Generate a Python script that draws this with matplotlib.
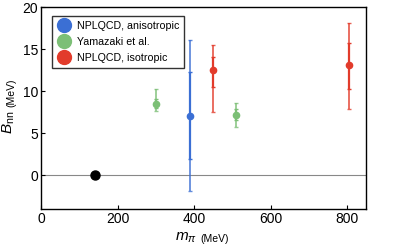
import matplotlib.pyplot as plt

plt.rcParams['font.family'] = ['Liberation Sans', 'DejaVu Sans']
plt.rcParams['mathtext.fontset'] = 'custom'
plt.rcParams['mathtext.it'] = 'Liberation Sans:italic'
plt.rcParams['mathtext.rm'] = 'Liberation Sans'

# physical point
phys_x = [140]
phys_y = [0]

# NPLQCD anisotropic
aniso_x = [390]
aniso_y = [7.1]
aniso_in = [(1.9, 12.3)]
aniso_out = [(-1.9, 16.1)]

# Yamazaki et al.
yam_x = [300, 510]
yam_y = [8.5, 7.15]
yam_in = [(8.0, 9.15), (6.6, 7.9)]
yam_out = [(7.65, 10.25), (5.75, 8.6)]

# NPLQCD isotropic
iso_x = [450, 806]
iso_y = [12.5, 13.1]
iso_in = [(10.55, 14.1), (10.3, 15.8)]
iso_out = [(7.55, 15.5), (7.9, 18.2)]

blue = '#3b6fd4'
green = '#7cbf76'
red = '#e23b2b'

fig, ax = plt.subplots(figsize=(3.99, 2.48), dpi=100)
fig.subplots_adjust(left=0.103, right=0.918, top=0.97, bottom=0.157)

ax.axhline(0, color='#888888', lw=0.8, zorder=1)


def draw(xs, ys, inner, outer, c, label):
    lo_o = [y - o[0] for y, o in zip(ys, outer)]
    hi_o = [o[1] - y for y, o in zip(ys, outer)]
    lo_i = [y - i[0] for y, i in zip(ys, inner)]
    hi_i = [i[1] - y for y, i in zip(ys, inner)]
    ax.errorbar(xs, ys, yerr=[lo_o, hi_o], fmt='none', ecolor=c, alpha=0.8,
                elinewidth=1.3, capsize=1.5, capthick=1, zorder=2)
    ax.errorbar(xs, ys, yerr=[lo_i, hi_i], fmt='none', ecolor=c,
                elinewidth=1.6, capsize=1.5, capthick=1, zorder=3)
    ax.plot(xs, ys, 'o', color=c, ms=4.5, zorder=4)
    ax.plot([], [], 'o', color=c, ms=10, label=label)


draw(aniso_x, aniso_y, aniso_in, aniso_out, blue, 'NPLQCD, anisotropic')
draw(yam_x, yam_y, yam_in, yam_out, green, 'Yamazaki et al.')
draw(iso_x, iso_y, iso_in, iso_out, red, 'NPLQCD, isotropic')

ax.plot(phys_x, phys_y, 'o', color='black', ms=6.5, zorder=5)

ax.set_xlim(0, 850)
ax.set_ylim(-4, 20)
ax.set_xticks([0, 200, 400, 600, 800])
ax.set_yticks([0, 5, 10, 15, 20])
ax.tick_params(direction='in', labelsize=10, length=3, width=0.8, pad=2)
for s in ax.spines.values():
    s.set_linewidth(1.0)

# axis labels with a smaller unit part
fig.text(0.494, 0.012, r'$m_\pi$', fontsize=11, ha='right', va='bottom')
fig.text(0.502, 0.018, '(MeV)', fontsize=7.5, ha='left', va='bottom')
fig.text(0.021, 0.508, r'$B_{\rm nn}$', fontsize=11, rotation=90, ha='center', va='center')
fig.text(0.029, 0.569, '(MeV)', fontsize=7.5, rotation=90, ha='center', va='bottom')

leg = ax.legend(loc='upper left', bbox_to_anchor=(0.034, 0.96), borderaxespad=0,
                fontsize=7.7, frameon=True, fancybox=False,
                edgecolor='black', handletextpad=0.6, borderpad=0.5,
                labelspacing=0.55, handlelength=1.2)
leg.get_frame().set_linewidth(1.0)

fig.savefig('out.png', dpi=100)
